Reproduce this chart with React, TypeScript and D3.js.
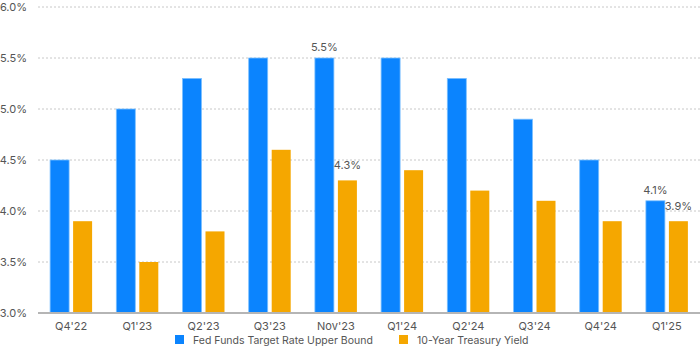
import * as d3 from "d3";
import React from "react";

const quarters = ["Q4'22", "Q1'23", "Q2'23", "Q3'23", "Nov'23", "Q1'24", "Q2'24", "Q3'24", "Q4'24", "Q1'25"];
const fedFunds = [4.5, 5.0, 5.3, 5.5, 5.5, 5.5, 5.3, 4.9, 4.5, 4.1];
const treasury = [3.9, 3.5, 3.8, 4.6, 4.3, 4.4, 4.2, 4.1, 3.9, 3.9];
const yTicks = [3.0, 3.5, 4.0, 4.5, 5.0, 5.5, 6.0];
// which bars get a value label
const fedLabels = ["Nov'23", "Q1'25"];
const treasuryLabels = ["Nov'23", "Q1'25"];

const BLUE = "#0b84fe";
const ORANGE = "#f5a700";
const FONT = "Inter, 'Noto Sans', sans-serif";

const W = 700, H = 350;
const m = { l: 38, r: 0, t: 7, b: 37 };

const App: React.FC = () => {
  const x = d3.scaleBand<string>().domain(quarters).range([m.l, W - m.r]);
  const y = d3.scaleLinear().domain([3, 6]).range([H - m.b, m.t]);
  const barW = 19, gap = 4;

  return (
    <svg width={W} height={H} style={{ position: "absolute", left: 0, top: 0, background: "#fff" }}
      fontFamily={FONT}>
      {yTicks.map(t => (
        <g key={t}>
          {t > 3 && <line x1={m.l} x2={W} y1={y(t)} y2={y(t)} stroke="#c8c8c8" strokeDasharray="2,2" />}
          <text x={27} y={y(t) + 4} textAnchor="end" fontSize={11} fill="#555">{t.toFixed(1)}%</text>
        </g>
      ))}
      {quarters.map((q, i) => {
        const c = x(q)! + x.bandwidth() / 2;
        const bx = c - gap / 2 - barW;
        const ox = c + gap / 2;
        return (
          <g key={q}>
            <rect x={bx} y={y(fedFunds[i])} width={barW} height={y(3) - y(fedFunds[i])}
              fill={BLUE} stroke="#7cc0ff" strokeWidth={0.8} />
            <rect x={ox} y={y(treasury[i])} width={barW} height={y(3) - y(treasury[i])} fill={ORANGE} />
            {fedLabels.includes(q) && (
              <text x={bx + barW / 2} y={y(fedFunds[i]) - 7} textAnchor="middle" fontSize={11} fill="#555">
                {fedFunds[i].toFixed(1)}%
              </text>
            )}
            {treasuryLabels.includes(q) && (
              <text x={ox + barW / 2} y={y(treasury[i]) - 11} textAnchor="middle" fontSize={11} fill="#555">
                {treasury[i].toFixed(1)}%
              </text>
            )}
            <text x={c} y={H - m.b + 17} textAnchor="middle" fontSize={11} fill="#555">{q}</text>
          </g>
        );
      })}
      <line x1={m.l} x2={W} y1={y(3)} y2={y(3)} stroke="#b5b5b5" strokeWidth={2} />
      <rect x={175} y={335} width={9} height={9} fill={BLUE} />
      <text x={193} y={343.5} fontSize={10.5} fill="#555">Fed Funds Target Rate Upper Bound</text>
      <rect x={399} y={335} width={9} height={9} fill={ORANGE} />
      <text x={417} y={343.5} fontSize={10.5} fill="#555">10-Year Treasury Yield</text>
    </svg>
  );
};

export default App;
